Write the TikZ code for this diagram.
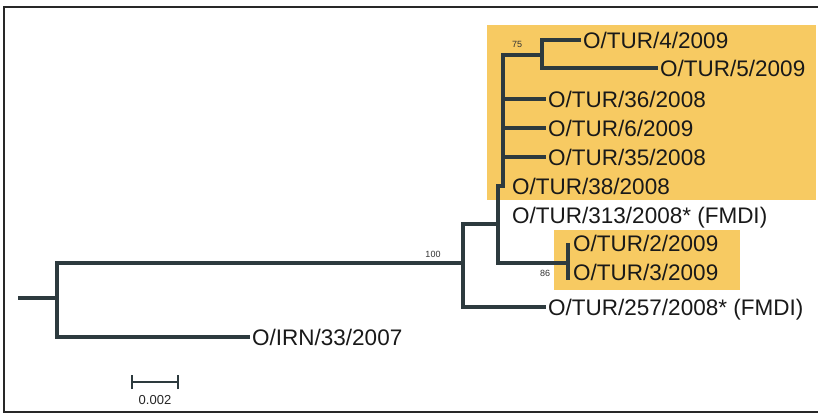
\documentclass[tikz,border=0pt]{standalone}
\usepackage{fontspec}
\setmainfont{Liberation Sans}
\definecolor{clade}{RGB}{247,202,98}
\definecolor{branch}{RGB}{45,58,62}
\definecolor{framec}{RGB}{40,40,40}
\begin{document}
\begin{tikzpicture}[x=1pt,y=-1pt,
  br/.style={draw=branch, line width=4pt, line cap=rect, line join=miter},
  tobr/.style={br, shorten >=4pt},
  leaf/.style={anchor=west, inner sep=0pt, text height=16pt, text depth=0pt,
    font=\fontsize{22.5}{24}\selectfont, text=black!90},
  boot/.style={font=\fontsize{9}{10}\selectfont, inner sep=0pt, text=black!80},
  scalelbl/.style={font=\fontsize{13}{14}\selectfont, inner sep=0pt, text=black!85}]
\useasboundingbox (0,0) rectangle (818,415);
\fill[white] (0,0) rectangle (818,415);
\begin{scope}
  \clip (0,0) rectangle (818,415);
  \draw[line width=2pt, draw=framec] (4,7) rectangle (840,412);
\end{scope}
% clade highlights
\fill[clade] (487,25) rectangle (816,200);
\fill[clade] (554,230) rectangle (740,290);
% leaf labels
\node[leaf] (t4)   at (583,40)  {O/TUR/4/2009};
\node[leaf] (t5)   at (660,68)  {O/TUR/5/2009};
\node[leaf] (t36)  at (548,99)  {O/TUR/36/2008};
\node[leaf] (t6)   at (548,128) {O/TUR/6/2009};
\node[leaf] (t35)  at (548,157) {O/TUR/35/2008};
\node[leaf] (t38)  at (512,186) {O/TUR/38/2008};
\node[leaf] (t313) at (512,215) {O/TUR/313/2008* (FMDI)};
\node[leaf] (t2)   at (573,243) {O/TUR/2/2009};
\node[leaf] (t3)   at (573,272) {O/TUR/3/2009};
\node[leaf] (t257) at (548,307) {O/TUR/257/2008* (FMDI)};
\node[leaf] (tirn) at (252,337) {O/IRN/33/2007};
% internal points
\coordinate (root) at (20,298);
\coordinate (r)    at (57,298);
\coordinate (n100) at (463,263);
\coordinate (a)    at (498,224);
\coordinate (b)    at (503,186);
\coordinate (n75)  at (542,55);
\coordinate (n86)  at (568,263);
% branches
\draw[br] (root) -- (r);
\draw[br] (r) |- (n100);
\draw[tobr] (r) |- (tirn);
\draw[br] (n100) |- (a);
\draw[tobr] (n100) |- (t257);
\draw[br] (a) |- (b);
\draw[br] (a) |- (n86);
\draw[br] (b) |- (n75);
\draw[tobr] (b) |- (t36);
\draw[tobr] (b) |- (t6);
\draw[tobr] (b) |- (t35);
\draw[tobr] (n75) |- (t4);
\draw[tobr] (n75) |- (t5);
\draw[br] (n86) ++(0,-18) coordinate (n86t) -- ++(0,33) coordinate (n86b);
% bootstrap values
\node[boot] (b75)  at (517,44)  {75};
\node[boot] (b100) at (433,254) {100};
\node[boot] (b86)  at (545,273) {86};
% scale bar
\coordinate (sb1) at (132,382);
\coordinate (sb2) at (178,382);
\draw[draw=branch, line width=2.5pt] (sb1) -- (sb2);
\draw[draw=branch, line width=2.5pt] ([yshift=-7pt]sb1) -- ([yshift=7pt]sb1);
\draw[draw=branch, line width=2.5pt] ([yshift=-7pt]sb2) -- ([yshift=7pt]sb2);
\node[scalelbl] (sbl) at (155,400) {0.002};
\end{tikzpicture}
\end{document}
